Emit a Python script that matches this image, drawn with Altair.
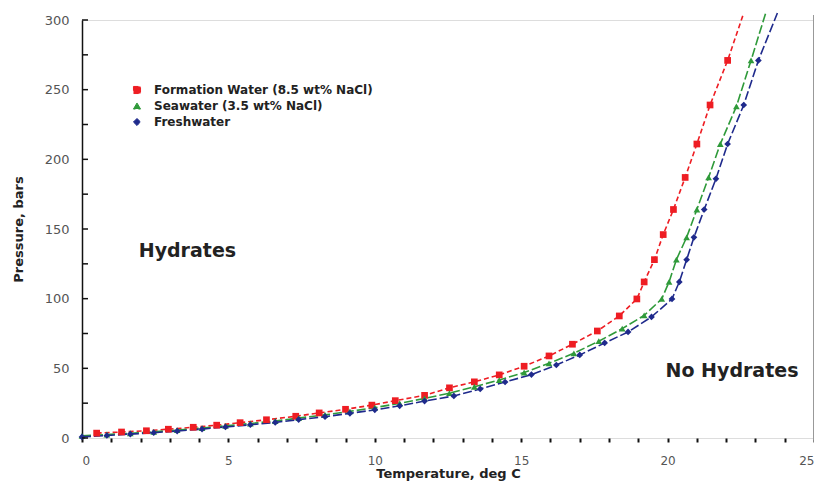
import altair as alt
import pandas as pd

series_names = ["Formation Water (8.5 wt% NaCl)", "Seawater (3.5 wt% NaCl)", "Freshwater"]
series_colors = ["#ee1d23", "#2f9a3a", "#1f2a8c"]
series_shapes = ["square", "triangle-up", "diamond"]

temp_formation = [0.5, 1.35, 2.2, 2.95, 3.8, 4.6, 5.4, 6.3, 7.3, 8.1, 9.0, 9.9, 10.7, 11.7, 12.55, 13.4,
                  14.25, 15.1, 15.95, 16.75, 17.6, 18.35, 18.95, 19.2, 19.55, 19.85, 20.2, 20.6, 21.0,
                  21.45, 22.05, 22.6]
pres_formation = [3.5, 4.3, 5.2, 6.3, 7.7, 9.2, 11.0, 13.1, 15.6, 18.0, 20.6, 23.6, 26.8, 30.6, 36.0, 40.3,
                  45.3, 51.5, 58.9, 67.3, 76.8, 87.6, 99.8, 112, 128, 146, 164, 187, 211, 239, 271, 305]

temp_seawater = [0.0, 0.85, 1.65, 2.45, 3.25, 4.1, 4.9, 5.75, 6.6, 7.4, 8.3, 9.15, 10.0, 10.85, 11.7, 12.55,
                 13.4, 14.25, 15.1, 15.95, 16.8, 17.65, 18.45, 19.2, 19.8, 20.05, 20.3, 20.65, 21.0, 21.4,
                 21.8, 22.35, 22.85, 23.35]
pres_seawater = [1.5, 2.5, 3.4, 4.4, 5.7, 7.1, 8.7, 10.4, 12.2, 14.3, 16.6, 19.1, 21.8, 24.9, 28.4, 32.2,
                 36.8, 41.6, 47.0, 53.6, 60.8, 69.5, 78.5, 88.0, 99.8, 112, 128, 144, 164, 187, 211, 238,
                 271, 305]

temp_fresh = [0.0, 0.85, 1.65, 2.45, 3.25, 4.1, 4.9, 5.75, 6.6, 7.4, 8.3, 9.15, 10.0, 10.85, 11.7, 12.7,
              13.6, 14.45, 15.35, 16.2, 17.0, 17.85, 18.65, 19.45, 20.15, 20.4, 20.65, 20.9, 21.25, 21.65,
              22.05, 22.6, 23.1, 23.75]
pres_fresh = [0.8, 1.8, 2.8, 3.8, 5.0, 6.4, 7.9, 9.5, 11.2, 13.2, 15.3, 17.7, 20.2, 23.1, 26.5, 30.2,
              35.2, 40.2, 45.5, 52.4, 59.6, 68.2, 76.1, 86.9, 99.8, 112, 128, 144, 164, 186, 211, 239,
              271, 305]

x_tick_values = list(range(0, 26))
y_tick_values = [0, 25, 50, 75, 100, 125, 150, 175, 200, 225, 250, 275, 300]
y_label_values = [0, 50, 100, 150, 200, 250, 300]

annot_text = ["Hydrates", "No Hydrates"]
annot_t = [3.6, 22.2]
annot_p = [134, 48]

border_t = [25]

rows = []
for name, ts, ps in [(series_names[0], temp_formation, pres_formation),
                     (series_names[1], temp_seawater, pres_seawater),
                     (series_names[2], temp_fresh, pres_fresh)]:
    for i, (t, p) in enumerate(zip(ts, ps)):
        rows.append({"series": name, "T": t, "P": p, "order": i})
df = pd.DataFrame(rows)

FONT = "DejaVu Sans"

x_scale = alt.Scale(domain=[0, 25], nice=False, zero=False)
y_scale = alt.Scale(domain=[0, 300], nice=False)
color_scale = alt.Scale(domain=series_names, range=series_colors)
shape_scale = alt.Scale(domain=series_names, range=series_shapes)

legend_def = alt.Legend(title=None, orient="none", legendX=49, legendY=64,
                        labelFont=FONT, labelFontSize=12, labelFontWeight="bold",
                        labelColor="#222", symbolSize=50, rowPadding=4, labelLimit=0,
                        labelOffset=11, padding=0, symbolStrokeWidth=1)

x_axis = alt.Axis(title="Temperature, deg C", values=x_tick_values,
                  labelExpr="datum.value % 5 === 0 ? datum.label : ''",
                  labelOverlap=False,
                  domain=False, ticks=True, tickSize=4, tickWidth=2, tickColor="#111",
                  grid=False, labelPadding=13, labelFont=FONT, labelFontSize=12,
                  labelColor="#555", titleFont=FONT, titleFontSize=13,
                  titleFontWeight="bold", titleColor="#222", titlePadding=1)
y_axis = alt.Axis(title="Pressure, bars", values=y_label_values, domain=True,
                  domainColor="#111", domainWidth=1.5, ticks=False, tickSize=0,
                  grid=False, labelPadding=13, labelFont=FONT, labelFontSize=13,
                  labelColor="#555", titleFont=FONT, titleFontSize=13,
                  titleFontWeight="bold", titleColor="#222", titlePadding=19)

x_enc = alt.X("T:Q", scale=x_scale, axis=x_axis)
y_enc = alt.Y("P:Q", scale=y_scale, axis=y_axis)

lines = alt.Chart(df).mark_line(strokeWidth=1.6, clip=False).encode(
    x=x_enc,
    y=y_enc,
    color=alt.Color("series:N", scale=color_scale, sort=series_names, legend=legend_def),
    strokeDash=alt.StrokeDash("series:N",
                              scale=alt.Scale(domain=series_names, range=[[5, 3], [9, 3], [9, 3]]),
                              legend=None),
    order="order:Q",
)

points = alt.Chart(df).transform_filter("datum.P <= 300").mark_point(
    filled=True, size=45, opacity=1).encode(
    x=x_enc,
    y=y_enc,
    color=alt.Color("series:N", scale=color_scale, sort=series_names, legend=legend_def),
    shape=alt.Shape("series:N", scale=shape_scale, sort=series_names, legend=legend_def),
)

ytick_df = pd.DataFrame({"P": y_tick_values})
yticks = alt.Chart(ytick_df).mark_rule(color="#111", strokeWidth=1.5).encode(
    y=y_enc,
    x=alt.value(0),
    x2=alt.value(6),
)

border = alt.Chart(pd.DataFrame({"T": border_t})).mark_rule(color="#999", strokeWidth=2).encode(
    x=x_enc,
    y=alt.value(-5),
    y2=alt.value(420),
)

annots = alt.Chart(pd.DataFrame({"text": annot_text, "T": annot_t, "P": annot_p})).mark_text(
    font=FONT, fontSize=19, fontWeight="bold", color="#222", align="center", baseline="middle"
).encode(
    x=x_enc,
    y=y_enc,
    text="text:N",
)

chart = alt.layer(lines, points, border, yticks, annots).properties(
    width=732, height=418,
    autosize=alt.AutoSizeParams(type="none"),
    padding={"left": 74, "top": 12, "right": 0, "bottom": 47},
).configure_view(stroke=None).configure(background="white")

chart.save("out.html", embed_options={"renderer": "svg", "actions": False})
